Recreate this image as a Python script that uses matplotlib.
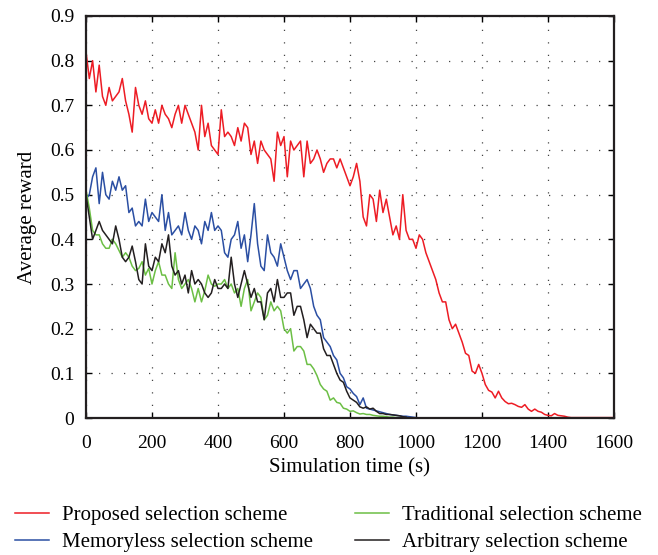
import numpy as np
import matplotlib
matplotlib.use("Agg")
import matplotlib.pyplot as plt

# time step of 10 s for every series
t_proposed = np.arange(0, 1610, 10)
t_others = np.arange(0, 1010, 10)

proposed = [
    0.82, 0.76, 0.80, 0.73, 0.79, 0.72, 0.70, 0.74, 0.71, 0.72,
    0.73, 0.76, 0.71, 0.68, 0.64, 0.74, 0.70, 0.68, 0.71, 0.67,
    0.66, 0.69, 0.66, 0.70, 0.68, 0.67, 0.65, 0.68, 0.70, 0.66,
    0.70, 0.68, 0.66, 0.64, 0.60, 0.70, 0.63, 0.66, 0.61, 0.60,
    0.59, 0.69, 0.63, 0.64, 0.63, 0.61, 0.65, 0.62, 0.66, 0.65,
    0.59, 0.62, 0.57, 0.62, 0.60, 0.59, 0.58, 0.53, 0.64, 0.61,
    0.63, 0.54, 0.62, 0.60, 0.61, 0.62, 0.54, 0.62, 0.57, 0.58,
    0.60, 0.58, 0.55, 0.57, 0.58, 0.58, 0.56, 0.58, 0.56, 0.54,
    0.52, 0.54, 0.57, 0.53, 0.45, 0.43, 0.50, 0.49, 0.44, 0.51,
    0.46, 0.49, 0.45, 0.41, 0.43, 0.40, 0.50, 0.42, 0.40, 0.40,
    0.38, 0.41, 0.40, 0.37, 0.35, 0.33, 0.31, 0.28, 0.26, 0.26,
    0.22, 0.20, 0.21, 0.19, 0.17, 0.145, 0.14, 0.105, 0.10, 0.12,
    0.10, 0.075, 0.062, 0.058, 0.045, 0.06, 0.045, 0.037, 0.032, 0.033,
    0.03, 0.026, 0.024, 0.03, 0.02, 0.015, 0.02, 0.015, 0.013, 0.008,
    0.006, 0.005, 0.01, 0.006, 0.005, 0.004, 0.002, 0.001, 0.001, 0.001,
    0.001, 0.001, 0.001, 0.001, 0.001, 0.001, 0.001, 0.001, 0.001, 0.001,
    0.001,
]

memoryless = [
    0.49, 0.50, 0.54, 0.56, 0.48, 0.55, 0.50, 0.49, 0.53, 0.51,
    0.54, 0.51, 0.52, 0.46, 0.47, 0.43, 0.44, 0.43, 0.49, 0.44,
    0.46, 0.45, 0.44, 0.50, 0.42, 0.46, 0.41, 0.42, 0.43, 0.41,
    0.46, 0.42, 0.40, 0.43, 0.42, 0.39, 0.44, 0.42, 0.46, 0.42,
    0.43, 0.42, 0.37, 0.36, 0.40, 0.41, 0.44, 0.38, 0.41, 0.35,
    0.41, 0.48, 0.39, 0.34, 0.33, 0.41, 0.37, 0.36, 0.34, 0.39,
    0.36, 0.33, 0.31, 0.33, 0.33, 0.29, 0.30, 0.31, 0.29, 0.25,
    0.23, 0.22, 0.18, 0.17, 0.16, 0.14, 0.13, 0.10, 0.09, 0.07,
    0.065, 0.055, 0.048, 0.03, 0.045, 0.022, 0.02, 0.018, 0.016, 0.014,
    0.012, 0.01, 0.008, 0.007, 0.006, 0.005, 0.004, 0.004, 0.003, 0.002,
    0.001,
]

traditional = [
    0.51, 0.47, 0.42, 0.41, 0.41, 0.39, 0.38, 0.38, 0.40, 0.39,
    0.375, 0.36, 0.37, 0.36, 0.34, 0.33, 0.335, 0.35, 0.32, 0.335,
    0.30, 0.33, 0.35, 0.32, 0.32, 0.30, 0.29, 0.37, 0.31, 0.29,
    0.30, 0.31, 0.29, 0.26, 0.29, 0.26, 0.285, 0.32, 0.30, 0.295,
    0.30, 0.30, 0.31, 0.29, 0.30, 0.28, 0.29, 0.25, 0.29, 0.31,
    0.24, 0.26, 0.28, 0.27, 0.22, 0.23, 0.26, 0.24, 0.25, 0.24,
    0.20, 0.19, 0.20, 0.15, 0.16, 0.16, 0.15, 0.12, 0.12, 0.11,
    0.095, 0.075, 0.065, 0.06, 0.04, 0.045, 0.035, 0.033, 0.022, 0.02,
    0.015, 0.016, 0.012, 0.009, 0.01, 0.008, 0.008, 0.006, 0.005, 0.004,
    0.004, 0.003, 0.002, 0.002, 0.001, 0.001,
]

arbitrary = [
    0.50, 0.45, 0.40, 0.42, 0.44, 0.42, 0.41, 0.40, 0.39, 0.43,
    0.40, 0.36, 0.35, 0.36, 0.385, 0.35, 0.31, 0.30, 0.39, 0.34,
    0.33, 0.36, 0.35, 0.39, 0.37, 0.41, 0.34, 0.32, 0.33, 0.30,
    0.32, 0.28, 0.33, 0.30, 0.31, 0.30, 0.28, 0.27, 0.28, 0.31,
    0.29, 0.29, 0.30, 0.29, 0.36, 0.30, 0.27, 0.30, 0.33, 0.30,
    0.27, 0.29, 0.26, 0.26, 0.22, 0.28, 0.29, 0.26, 0.31, 0.27,
    0.27, 0.28, 0.28, 0.23, 0.25, 0.25, 0.22, 0.18, 0.21, 0.20,
    0.19, 0.19, 0.155, 0.14, 0.14, 0.12, 0.10, 0.085, 0.08, 0.06,
    0.045, 0.04, 0.035, 0.025, 0.022, 0.025, 0.02, 0.022, 0.015, 0.01,
    0.01, 0.008, 0.008, 0.007, 0.006, 0.005, 0.003, 0.002,
]

labels = [
    "Proposed selection scheme",
    "Memoryless selection scheme",
    "Traditional selection scheme",
    "Arbitrary selection scheme",
]
colors = ["#ed1c24", "#2b4fa3", "#6cbf45", "#231f20"]

plt.rcParams["font.family"] = ["Liberation Serif", "DejaVu Serif"]

fig = plt.figure(figsize=(6.58, 5.55), dpi=100)
ax = fig.add_axes([0.1307, 0.2468, 0.8024, 0.7244])

series = [
    (t_proposed, proposed),
    (t_others[:len(memoryless)], memoryless),
    (t_others[:len(traditional)], traditional),
    (t_others[:len(arbitrary)], arbitrary),
]
handles = []
for (t, y), lab, c in zip(series, labels, colors):
    (h,) = ax.plot(t, y, color=c, lw=1.1, label=lab)
    handles.append(h)

ax.set_xlim(0, 1600)
ax.set_ylim(0, 0.9)
ax.set_xticks(np.arange(0, 1601, 200))
ax.set_yticks(np.arange(0, 0.91, 0.1))
ax.set_yticklabels(["0"] + [f"{v:.1f}" for v in np.arange(0.1, 0.91, 0.1)])
ax.tick_params(direction="in", length=4, width=1, labelsize=14,
               top=True, right=True)
ax.tick_params(axis="x", pad=12)
ax.tick_params(axis="y", pad=8.5)
ax.grid(True, color="#444444", linestyle=(0, (1, 9)), linewidth=0.9)
for s in ax.spines.values():
    s.set_linewidth(1.6)
    s.set_color("#231f20")

ax.set_xlabel("Simulation time (s)", fontsize=15, labelpad=5)
ax.set_ylabel("Average reward", fontsize=15, labelpad=9)

fig.legend(handles=handles, labels=labels, loc="upper center",
           bbox_to_anchor=(0.499, 1 - 487 / 555), ncol=2, frameon=False,
           fontsize=15, handlelength=1.63, columnspacing=2.0,
           labelspacing=0.36, handletextpad=0.62)

fig.savefig("out.png", dpi=100)
